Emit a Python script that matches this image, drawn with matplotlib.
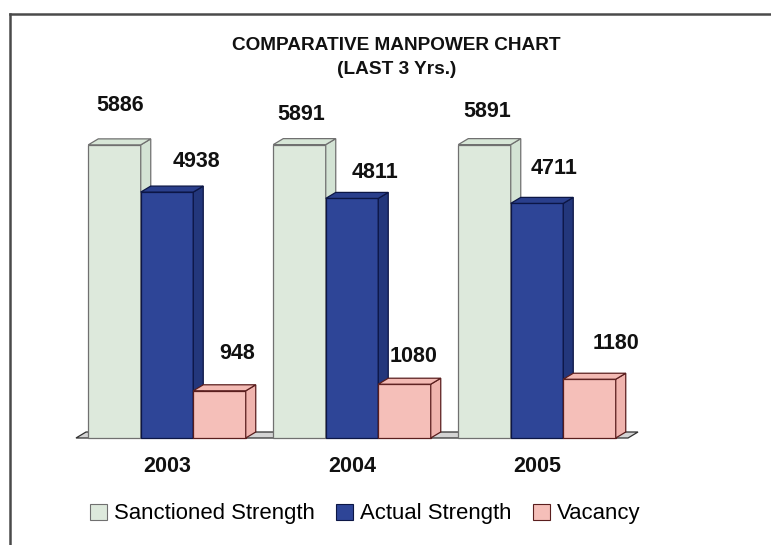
import numpy as np
import matplotlib
matplotlib.use("Agg")
import matplotlib.pyplot as plt
from matplotlib.patches import Polygon, Patch
from matplotlib.lines import Line2D

plt.rcParams['font.family'] = ['Liberation Sans', 'DejaVu Sans']

# data
years = ['2003', '2004', '2005']
series = ['Sanctioned Strength', 'Actual Strength', 'Vacancy']
sanctioned = [5886, 5891, 5891]
actual = [4938, 4811, 4711]
vacancy = [948, 1080, 1180]
values = [sanctioned, actual, vacancy]

# colours: front, side, top, edge
face_col = ['#dde9dc', '#2e4597', '#f5bfb9']
side_col = ['#d3e3d4', '#23377c', '#f0b4ae']
top_col = ['#d7e6d7', '#2a3f8c', '#f3bab4']
edge_col = ['#707070', '#0c1645', '#5a1e1e']

# label offsets (pixels) relative to the top centre of each bar
lab_dx = [[6, 29, 18], [1.5, 23, 9.5], [2.5, 17.5, 26]]
lab_dy = [[39.5, 30.7, 37], [30.5, 25.5, 28], [33, 34.5, 35.5]]

W, H = 771, 545
fig = plt.figure(figsize=(W / 100, H / 100), dpi=100)
ax = fig.add_axes([0, 0, 1, 1])

# pixel geometry -> data scales
x_c0, x_step = 167.0, 185.0     # px of first group centre, px between groups
y_base = 438.0                  # px (from top) of value 0
upp = 20.08                     # value units per pixel
ax.set_xlim(-x_c0 / x_step, (W - x_c0) / x_step)
ax.set_ylim(-(H - y_base) * upp, y_base * upp)
ax.axis('off')

bw = 52.5 / x_step
ddx = 10 / x_step
ddy = 6 * upp

# floor
fl0, fl1 = (76 - x_c0) / x_step, (628 - x_c0) / x_step
ax.add_patch(Polygon([(fl0, 0), (fl1, 0), (fl1 + ddx, ddy), (fl0 + ddx, ddy)],
                     closed=True, facecolor='#d4d4d4', edgecolor='#303030',
                     linewidth=0.9, zorder=1))

z = 2
for g, yr in enumerate(years):
    for s in range(3):
        v = values[s][g]
        xc = g + (s - 1) * bw
        x0, x1 = xc - bw / 2, xc + bw / 2
        ax.bar(xc, v, width=bw, color=face_col[s], edgecolor=edge_col[s],
               linewidth=0.9, zorder=z)
        ax.add_patch(Polygon([(x1, 0), (x1 + ddx, ddy), (x1 + ddx, v + ddy), (x1, v)],
                             closed=True, facecolor=side_col[s], edgecolor=edge_col[s],
                             linewidth=0.9, zorder=z))
        ax.add_patch(Polygon([(x0, v), (x1, v), (x1 + ddx, v + ddy), (x0 + ddx, v + ddy)],
                             closed=True, facecolor=top_col[s], edgecolor=edge_col[s],
                             linewidth=0.9, zorder=z))
        z += 1
        ax.annotate(str(v), (xc, v), xytext=(lab_dx[g][s], lab_dy[g][s]),
                    textcoords='offset pixels', ha='center', va='center',
                    fontsize=15.5, fontweight='bold', color='#111111')
    ax.annotate(yr, (g, 0), xytext=(0, -28), textcoords='offset pixels',
                ha='center', va='center', fontsize=15.5, fontweight='bold',
                color='#111111')

fig.text(396.5 / W, 1 - 45 / H, 'COMPARATIVE MANPOWER CHART', ha='center', va='center',
         fontsize=13.7, fontweight='bold', color='#111111')
fig.text(396.5 / W, 1 - 70 / H, '(LAST 3 Yrs.)', ha='center', va='center',
         fontsize=13.7, fontweight='bold', color='#111111')

handles = [Patch(facecolor=face_col[i], edgecolor=edge_col[i], linewidth=0.8)
           for i in range(3)]
fig.legend(handles, series, loc='center', bbox_to_anchor=(365 / W, 1 - 514 / H),
           ncol=3, frameon=False, fontsize=15.9, handlelength=0.78, handleheight=0.78,
           handletextpad=0.32, columnspacing=0.95, borderpad=0)

# outer frame (left and top edges)
fig.add_artist(Line2D([10 / W, 10 / W], [0, 1 - 14 / H], transform=fig.transFigure,
                      color='#4a4a4a', linewidth=1.8))
fig.add_artist(Line2D([10 / W, 1], [1 - 14 / H, 1 - 14 / H], transform=fig.transFigure,
                      color='#4a4a4a', linewidth=1.8))

fig.savefig('out.png', dpi=100, facecolor='white')
